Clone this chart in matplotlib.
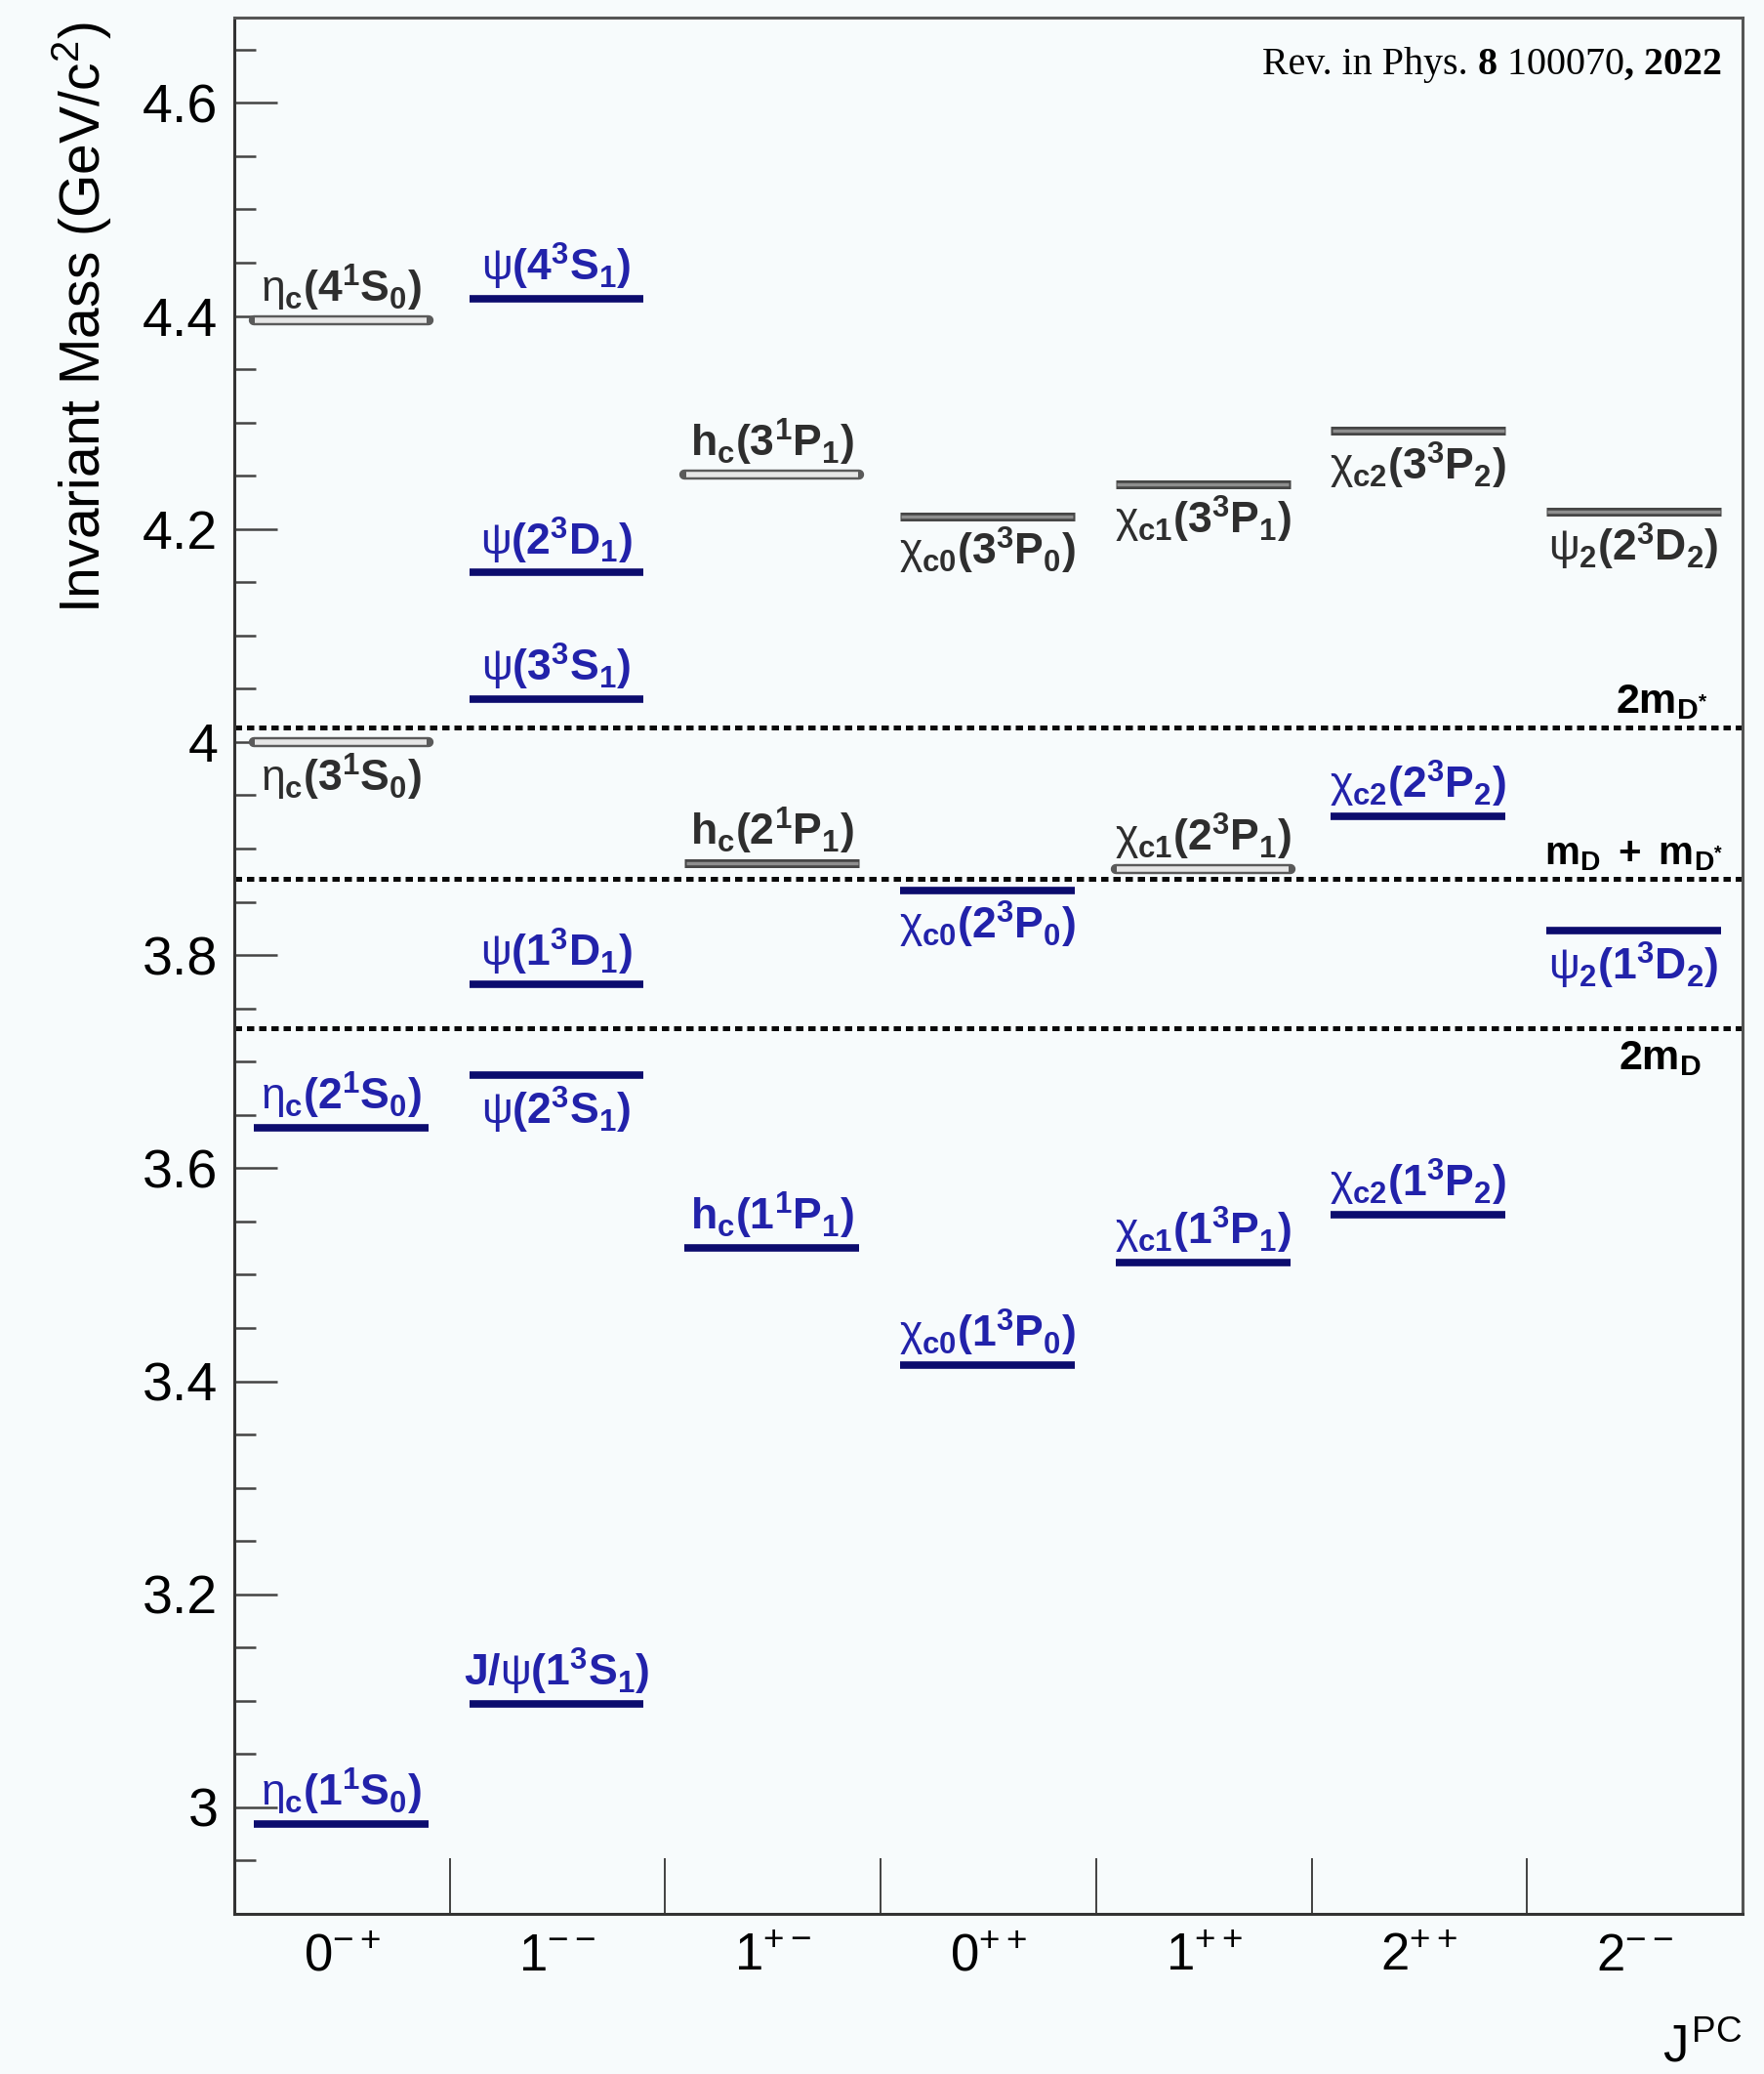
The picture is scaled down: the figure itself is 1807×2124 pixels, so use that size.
import matplotlib
matplotlib.use("Agg")
import matplotlib.pyplot as plt
from matplotlib.ticker import MultipleLocator, FixedLocator, FuncFormatter, NullFormatter

plt.rcParams['font.family'] = ['Liberation Sans', 'DejaVu Sans']
plt.rcParams['mathtext.fontset'] = 'custom'
plt.rcParams['mathtext.rm'] = 'Liberation Sans'
plt.rcParams['mathtext.it'] = 'Liberation Sans'
plt.rcParams['mathtext.sf'] = 'Liberation Sans'
plt.rcParams['mathtext.bf'] = 'Liberation Sans:bold'

# J^PC columns
jpc_labels = [r'$0^{-+}$', r'$1^{--}$', r'$1^{+-}$', r'$0^{++}$',
              r'$1^{++}$', r'$2^{++}$', r'$2^{--}$']

# charmonium levels (column, mass in GeV, name, kind)
level_col = [0, 0, 0, 0,
             1, 1, 1, 1, 1, 1,
             2, 2, 2,
             3, 3, 3,
             4, 4, 4,
             5, 5, 5,
             6, 6]
level_mass = [2.984, 3.638, 4.000, 4.396,
              3.097, 3.687, 3.773, 4.040, 4.159, 4.416,
              3.525, 3.886, 4.251,
              3.415, 3.861, 4.212,
              3.511, 3.881, 4.242,
              3.556, 3.930, 4.292,
              3.823, 4.216]
level_name = [
    r'$\eta_{\mathbf{c}}\mathbf{(1^{1}S_{0})}$', r'$\eta_{\mathbf{c}}\mathbf{(2^{1}S_{0})}$',
    r'$\eta_{\mathbf{c}}\mathbf{(3^{1}S_{0})}$', r'$\eta_{\mathbf{c}}\mathbf{(4^{1}S_{0})}$',
    r'$\mathbf{J/}\psi\mathbf{(1^{3}S_{1})}$', r'$\psi\mathbf{(2^{3}S_{1})}$',
    r'$\psi\mathbf{(1^{3}D_{1})}$', r'$\psi\mathbf{(3^{3}S_{1})}$',
    r'$\psi\mathbf{(2^{3}D_{1})}$', r'$\psi\mathbf{(4^{3}S_{1})}$',
    r'$\mathbf{h_{c}(1^{1}P_{1})}$', r'$\mathbf{h_{c}(2^{1}P_{1})}$', r'$\mathbf{h_{c}(3^{1}P_{1})}$',
    r'$\chi_{\mathbf{c0}}\mathbf{(1^{3}P_{0})}$', r'$\chi_{\mathbf{c0}}\mathbf{(2^{3}P_{0})}$',
    r'$\chi_{\mathbf{c0}}\mathbf{(3^{3}P_{0})}$',
    r'$\chi_{\mathbf{c1}}\mathbf{(1^{3}P_{1})}$', r'$\chi_{\mathbf{c1}}\mathbf{(2^{3}P_{1})}$',
    r'$\chi_{\mathbf{c1}}\mathbf{(3^{3}P_{1})}$',
    r'$\chi_{\mathbf{c2}}\mathbf{(1^{3}P_{2})}$', r'$\chi_{\mathbf{c2}}\mathbf{(2^{3}P_{2})}$',
    r'$\chi_{\mathbf{c2}}\mathbf{(3^{3}P_{2})}$',
    r'$\psi_{\mathbf{2}}\mathbf{(1^{3}D_{2})}$', r'$\psi_{\mathbf{2}}\mathbf{(2^{3}D_{2})}$',
]
# obs = observed, open / gray = predicted
level_kind = ['obs', 'obs', 'open', 'open',
              'obs', 'obs', 'obs', 'obs', 'obs', 'obs',
              'obs', 'gray', 'open',
              'obs', 'obs', 'gray',
              'obs', 'open', 'gray',
              'obs', 'obs', 'gray',
              'obs', 'gray']

# open-charm thresholds
thr_mass = [4.014, 3.872, 3.731]
thr_name = [r'$\mathbf{2m_{D^{*}}}$', r'$\mathbf{m_{D}\ +\ m_{D^{*}}}$', r'$\mathbf{2m_{D}}$']

# labels drawn under the bar
below = {2, 5, 14, 15, 18, 21, 22, 23}

NAVY = '#0c0c6e'
BLUE = '#2222aa'
DARK = '#2e2e2e'
BG = '#f7fbfc'

fig = plt.figure(figsize=(18.08, 21.24), dpi=100, facecolor=BG)
ax = fig.add_axes([0.1327, 0.0772, 0.8546, 0.9143], facecolor=BG)

for i, (c, m, name, kind) in enumerate(zip(level_col, level_mass, level_name, level_kind)):
    x0, x1 = c + 0.09, c + 0.90
    if kind == 'obs':
        ax.hlines(m, x0, x1, color=NAVY, lw=5.5, zorder=3)
        tcol = BLUE
    elif kind == 'open':
        ax.hlines(m, x0, x1, color='#5a5a5a', lw=7.5, capstyle='round', zorder=3)
        ax.hlines(m, x0 + 0.006, x1 - 0.006, color='#e6e6e6', lw=4, zorder=4)
        tcol = DARK
    else:
        ax.hlines(m, x0, x1, color='#464646', lw=6.5, zorder=3)
        ax.hlines(m, x0 + 0.006, x1 - 0.006, color='#8e8e8e', lw=2.5, zorder=4)
        tcol = DARK
    if i in below:
        ax.annotate(name, xy=((x0 + x1) / 2, m), xytext=(0, -7), textcoords='offset points',
                    ha='center', va='top', fontsize=32, color=tcol)
    else:
        ax.annotate(name, xy=((x0 + x1) / 2, m), xytext=(0, 5), textcoords='offset points',
                    ha='center', va='bottom', fontsize=32, color=tcol)

thr_x = [6.84, 6.91, 6.81]
thr_size = [31, 29, 31]
for j, (m, name) in enumerate(zip(thr_mass, thr_name)):
    ax.axhline(m, color='#0a0a0a', lw=3.6, linestyle=(0, (1.5, 1.0)), zorder=2)
    if j == 2:
        ax.annotate(name, xy=(thr_x[j], m), xytext=(0, -8), textcoords='offset points',
                    ha='right', va='top', fontsize=thr_size[j], color='black')
    else:
        ax.annotate(name, xy=(thr_x[j], m), xytext=(0, 4), textcoords='offset points',
                    ha='right', va='bottom', fontsize=thr_size[j], color='black')

ax.set_xlim(0, 7)
ax.set_ylim(2.9, 4.68)

ax.yaxis.set_major_locator(MultipleLocator(0.2))
ax.yaxis.set_minor_locator(MultipleLocator(0.05))
ax.yaxis.set_major_formatter(FuncFormatter(lambda v, p: '%g' % round(v, 2)))
ax.tick_params(axis='y', which='major', direction='in', length=32, width=1.8,
               color='#444444', labelsize=40, pad=12)
ax.tick_params(axis='y', which='minor', direction='in', length=16, width=1.8, color='#444444')
ax.tick_params(right=False, top=False)

ax.xaxis.set_major_locator(FixedLocator(range(0, 8)))
ax.xaxis.set_major_formatter(NullFormatter())
ax.xaxis.set_minor_locator(FixedLocator([k + 0.5 for k in range(7)]))
ax.xaxis.set_minor_formatter(FuncFormatter(lambda v, p: jpc_labels[int(v)]))
ax.tick_params(axis='x', which='major', direction='in', length=41, width=1.3, color='#333333')
ax.tick_params(axis='x', which='minor', length=0, labelsize=38, pad=14)

for s in ax.spines.values():
    s.set_linewidth(2.2)
    s.set_color('#555555')
ax.spines['left'].set_color('#333333')
ax.spines['bottom'].set_color('#333333')

fig.text(0.0465, 0.9896, r'Invariant Mass (GeV/c$^{2}$)', rotation=90,
         ha='center', va='top', fontsize=41)
ax.text(1.0, -0.0705, r'$J^{PC}$', transform=ax.transAxes, ha='right', va='center', fontsize=38)

# reference note, built piece by piece
pieces = ['Rev. in Phys.', ' 8', ' 100070', ', 2022']
weights = ['normal', 'bold', 'normal', 'bold']
prev = ax.text(0.6816, 0.970, pieces[0], transform=ax.transAxes, ha='left', va='baseline',
               fontsize=28.8, family='Liberation Serif', fontweight=weights[0])
for txt, w in zip(pieces[1:], weights[1:]):
    prev = ax.annotate(txt, xy=(1, 0), xycoords=prev, ha='left', va='bottom',
                       fontsize=28.8, family='Liberation Serif', fontweight=w)

fig.savefig('out.png', dpi=100, facecolor=BG)
